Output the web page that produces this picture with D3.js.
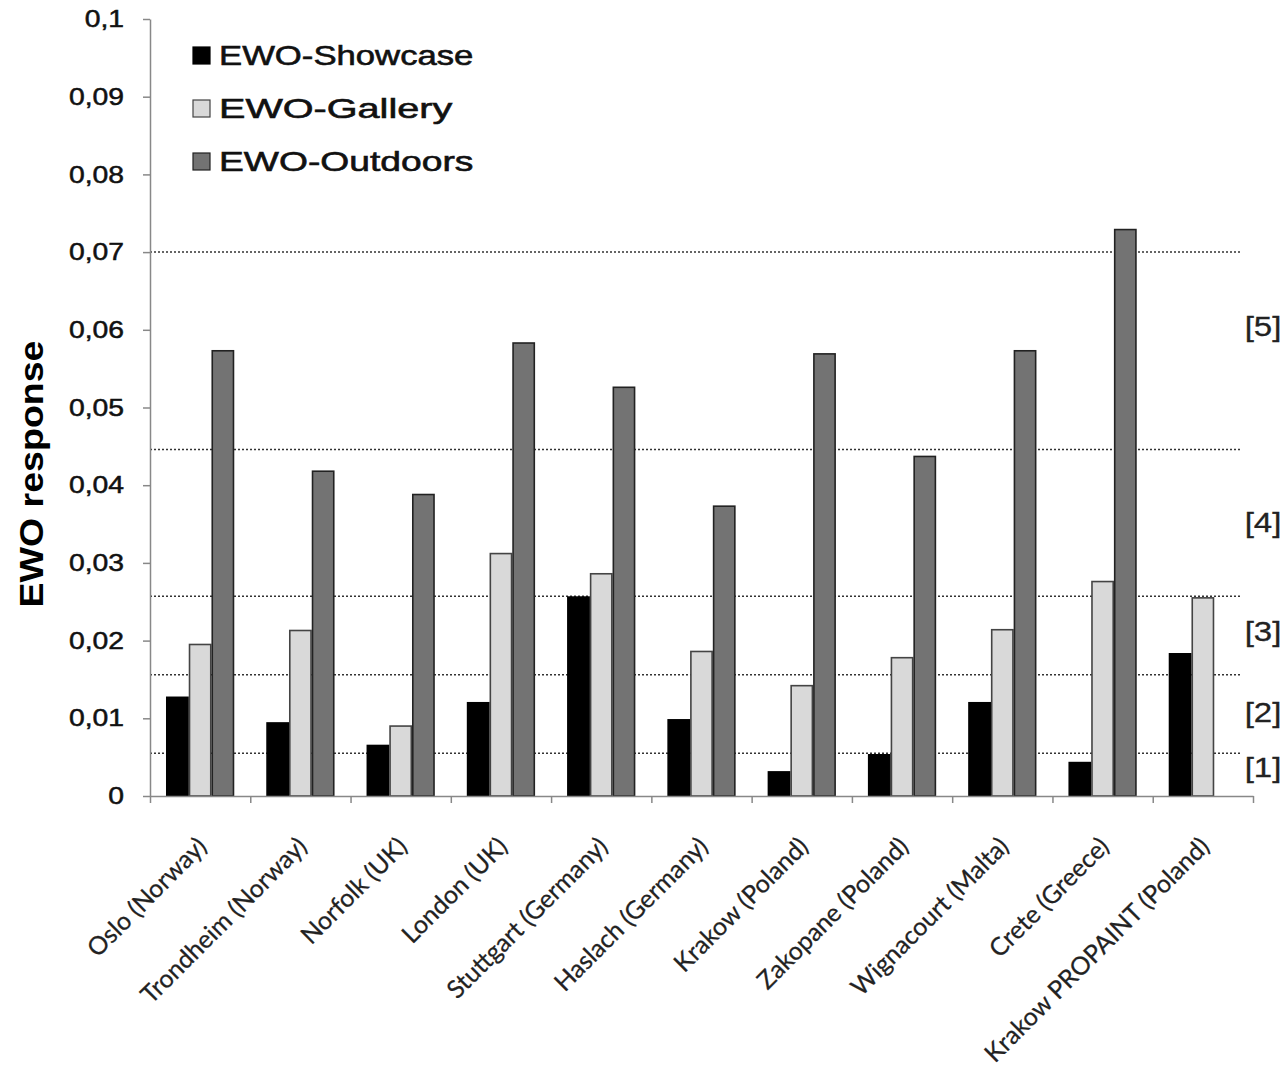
<!DOCTYPE html>
<html>
<head>
<meta charset="utf-8">
<script src="https://cdn.jsdelivr.net/npm/d3@7"></script>
<style>
  body { margin: 0; background: #fff; }
  svg { display: block; }
</style>
</head>
<body>
<svg id="chart" width="1287" height="1074"></svg>
<script>
var categories = ["Oslo (Norway)", "Trondheim (Norway)", "Norfolk (UK)", "London (UK)", "Stuttgart (Germany)",
  "Haslach (Germany)", "Krakow (Poland)", "Zakopane (Poland)", "Wignacourt (Malta)", "Crete (Greece)",
  "Krakow PROPAINT (Poland)"];
var seriesNames = ["EWO-Showcase", "EWO-Gallery", "EWO-Outdoors"];
var showcase = [0.0127, 0.0094, 0.0065, 0.0120, 0.0256, 0.0098, 0.0031, 0.0053, 0.0120, 0.0043, 0.0183];
var gallery  = [0.0195, 0.0213, 0.0090, 0.0312, 0.0286, 0.0186, 0.0142, 0.0178, 0.0214, 0.0276, 0.0255];
var outdoors = [0.0573, 0.0418, 0.0388, 0.0583, 0.0526, 0.0373, 0.0569, 0.0437, 0.0573, 0.0729, null];
var yTicks = [0, 0.01, 0.02, 0.03, 0.04, 0.05, 0.06, 0.07, 0.08, 0.09, 0.1];
// class limits (dotted lines) and labels on the right
var limits = [0.0055, 0.0156, 0.0257, 0.0446, 0.0700];
var classLabels = ["[1]", "[2]", "[3]", "[4]", "[5]"];
var classMid = [0.0037, 0.0108, 0.0212, 0.0353, 0.0604];

var fills = ["#000000", "#d9d9d9", "#737373"];
var strokes = ["#000000", "#444444", "#222222"];

var svg = d3.select("#chart");
var plotLeft = 150, plotRight = 1253, plotTop = 19, plotBottom = 796;
var sx = 1.18; // picture is a bit wider than tall, text is stretched

var x = d3.scaleBand().domain(categories).range([plotLeft, plotRight]).paddingInner(0.32).paddingOuter(0.16);
var xs = d3.scaleBand().domain(seriesNames).range([0, x.bandwidth()]);
var y = d3.scaleLinear().domain([0, 0.1]).range([plotBottom, plotTop]);
var xTicks = d3.scaleLinear().domain([0, categories.length]).range([plotLeft, plotRight]);

var fmt = function (d) { return d === 0 ? "0" : String(+d.toFixed(2)).replace(".", ","); };

// dotted class lines
svg.append("g").selectAll("line").data(limits).enter().append("line")
  .attr("x1", plotLeft).attr("x2", 1240)
  .attr("y1", function (d) { return y(d); }).attr("y2", function (d) { return y(d); })
  .attr("stroke", "#333").attr("stroke-width", 1.5).attr("stroke-dasharray", "2,2");

svg.append("g").selectAll("text").data(classLabels).enter().append("text")
  .attr("transform", function (d, i) { return "translate(1263," + y(classMid[i]) + ") scale(" + sx + ",1)"; })
  .attr("dy", "0.35em").attr("text-anchor", "middle")
  .attr("font-family", "Liberation Sans, Arial, sans-serif").attr("font-size", 28).attr("fill", "#222")
  .attr("stroke", "#222").attr("stroke-width", 0.3)
  .text(function (d) { return d; });

// bars
var data = [showcase, gallery, outdoors];
var groups = svg.append("g").selectAll("g").data(categories).enter().append("g")
  .attr("transform", function (d) { return "translate(" + x(d) + ",0)"; });
groups.selectAll("rect")
  .data(function (d, i) { return seriesNames.map(function (s, k) { return { s: s, k: k, v: data[k][i] }; }); })
  .enter().filter(function (d) { return d.v != null; }).append("rect")
  .attr("x", function (d) { return xs(d.s) + 0.75; })
  .attr("width", xs.bandwidth() - 1.5)
  .attr("y", function (d) { return y(d.v); })
  .attr("height", function (d) { return plotBottom - y(d.v); })
  .attr("fill", function (d) { return fills[d.k]; })
  .attr("stroke", function (d) { return strokes[d.k]; })
  .attr("stroke-width", 1.6);

// y axis
var yAxis = svg.append("g").attr("transform", "translate(" + plotLeft + ",0)")
  .call(d3.axisLeft(y).tickValues(yTicks).tickFormat(fmt).tickSizeInner(7).tickSizeOuter(0).tickPadding(0));
yAxis.select(".domain").attr("stroke", "#888").attr("stroke-width", 1.5);
yAxis.selectAll(".tick line").attr("stroke", "#888").attr("stroke-width", 1.5);
yAxis.selectAll(".tick text")
  .attr("x", -26 / sx).attr("transform", "scale(" + sx + ",1)")
  .attr("font-family", "Liberation Sans, Arial, sans-serif").attr("font-size", 24).attr("fill", "#111")
  .attr("stroke", "#111").attr("stroke-width", 0.5);

// x axis
var xAxis = svg.append("g").attr("transform", "translate(0," + plotBottom + ")")
  .call(d3.axisBottom(xTicks).tickValues(d3.range(categories.length + 1)).tickFormat("").tickSizeInner(7).tickSizeOuter(0));
xAxis.select(".domain").attr("stroke", "#888").attr("stroke-width", 1.5);
xAxis.selectAll(".tick line").attr("stroke", "#888").attr("stroke-width", 1.5);

svg.append("g").selectAll("text").data(categories).enter().append("text")
  .attr("transform", function (d) { return "translate(" + (x(d) + x.bandwidth() / 2 + 8) + ",848) rotate(-45)"; })
  .attr("text-anchor", "end")
  .attr("font-family", "Lato, sans-serif").attr("font-size", 25).attr("fill", "#222")
  .attr("stroke", "#222").attr("stroke-width", 0.25)
  .text(function (d) { return d; });

// y label
svg.append("text")
  .attr("transform", "translate(43,474) rotate(-90)")
  .attr("text-anchor", "middle")
  .attr("font-family", "Liberation Sans, Arial, sans-serif").attr("font-weight", "bold").attr("font-size", 33)
  .attr("textLength", 267).attr("lengthAdjust", "spacingAndGlyphs")
  .text("EWO response");

// legend
var legend = svg.append("g").selectAll("g").data(seriesNames).enter().append("g")
  .attr("transform", function (d, i) { return "translate(193," + (55 + i * 53) + ")"; });
legend.append("rect")
  .attr("x", 0).attr("y", -8).attr("width", 17).attr("height", 17)
  .attr("fill", function (d, i) { return fills[i]; })
  .attr("stroke", function (d, i) { return strokes[i]; }).attr("stroke-width", 1.2);
legend.append("text")
  .attr("x", 26).attr("dy", "0.36em")
  .attr("font-family", "Liberation Sans, Arial, sans-serif").attr("font-size", 28).attr("fill", "#111")
  .attr("stroke", "#111").attr("stroke-width", 0.6)
  .attr("textLength", function (d) { return d.length * 21.2; }).attr("lengthAdjust", "spacingAndGlyphs")
  .text(function (d) { return d; });
</script>
</body>
</html>
